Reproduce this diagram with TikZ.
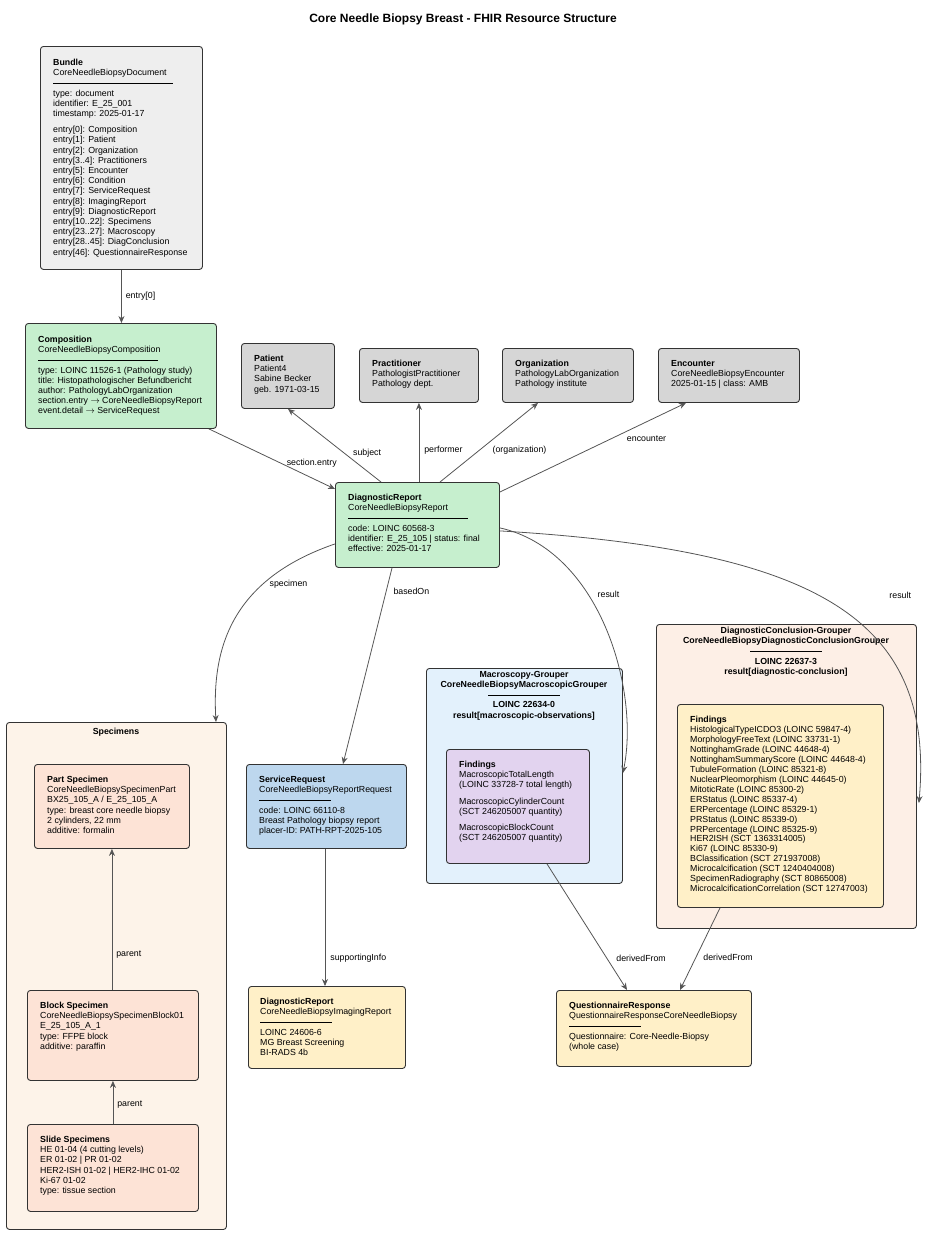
\documentclass[tikz,border=0pt]{standalone}
\usepackage{fontspec}
\setmainfont{Liberation Sans}
\usetikzlibrary{arrows.meta}
\definecolor{edge}{HTML}{555555}
\definecolor{cgray}{HTML}{EEEEEE}
\definecolor{cgray2}{HTML}{D6D6D6}
\definecolor{cgreen}{HTML}{C6EFCE}
\definecolor{cpeach}{HTML}{FDF3E9}
\definecolor{cpart}{HTML}{FDE3D6}
\definecolor{cblue}{HTML}{BDD7EE}
\definecolor{cyellow}{HTML}{FFF0C8}
\definecolor{clblue}{HTML}{E3F1FC}
\definecolor{cviolet}{HTML}{E2D3EF}
\definecolor{cdc}{HTML}{FDEFE6}
\tikzset{
  box/.style={draw=black!80, line width=0.9pt, rounded corners=3pt, anchor=north west, inner sep=0pt},
  txt/.style={anchor=north west, inner sep=0pt, align=left, font=\fontsize{8.8}{10.2}\selectfont},
  ctxt/.style={anchor=north, inner sep=0pt, align=center, font=\fontsize{8.8}{10.2}\selectfont\bfseries},
  arr/.style={draw=edge, line width=0.8pt, -{Stealth[length=7pt,width=6pt]}},
  lab/.style={font=\fontsize{8.8}{10}\selectfont, inner sep=1pt},
}
\newcommand{\sepline}[1]{\rule[2pt]{#1}{0.6pt}}
\begin{document}
\begin{tikzpicture}[x=1pt,y=-1pt]
\useasboundingbox (0,0) rectangle (937,1235);
\node[font=\fontsize{12}{14}\selectfont\bfseries] (title) at (463,19) {Core Needle Biopsy Breast - FHIR Resource Structure};

% boxes
\node[box, fill=cgray, minimum width=162pt, minimum height=223pt] (bundle) at (40,46) {};
\node[box, fill=cgreen, minimum width=191pt, minimum height=105pt] (comp) at (25,323) {};
\node[box, fill=cgray2, minimum width=93pt, minimum height=65pt] (pat) at (241,343) {};
\node[box, fill=cgray2, minimum width=119pt, minimum height=54pt] (prac) at (359,348) {};
\node[box, fill=cgray2, minimum width=131pt, minimum height=54pt] (org) at (502,348) {};
\node[box, fill=cgray2, minimum width=141pt, minimum height=54pt] (enc) at (658,348) {};
\node[box, fill=cgreen, minimum width=164pt, minimum height=85pt] (dr) at (335,482) {};
\node[box, fill=cpeach, minimum width=220pt, minimum height=507pt] (spec) at (6,722) {};
\node[box, fill=cpart, minimum width=155pt, minimum height=84pt] (part) at (34,764) {};
\node[box, fill=cpart, minimum width=171pt, minimum height=90pt] (block) at (27,990) {};
\node[box, fill=cpart, minimum width=171pt, minimum height=87pt] (slide) at (27,1124) {};
\node[box, fill=cblue, minimum width=160pt, minimum height=84pt] (sr) at (246,764) {};
\node[box, fill=cyellow, minimum width=157pt, minimum height=82pt] (img) at (248,986) {};
\node[box, fill=clblue, minimum width=196pt, minimum height=215pt] (macro) at (426,668) {};
\node[box, fill=cviolet, minimum width=143pt, minimum height=114pt] (mfind) at (446,749) {};
\node[box, fill=cdc, minimum width=260pt, minimum height=304pt] (dc) at (656,624) {};
\node[box, fill=cyellow, minimum width=206pt, minimum height=203pt] (dfind) at (677,704) {};
\node[box, fill=cyellow, minimum width=195pt, minimum height=76pt] (qr) at (556,990) {};

% texts
\node[txt] (bundlet) at (53,59) {\textbf{Bundle}\\CoreNeedleBiopsyDocument\\\sepline{120pt}\\type: document\\identifier: E\_25\_001\\timestamp: 2025-01-17\\[6pt]
entry[0]: Composition\\entry[1]: Patient\\entry[2]: Organization\\entry[3..4]: Practitioners\\entry[5]: Encounter\\entry[6]: Condition\\entry[7]: ServiceRequest\\entry[8]: ImagingReport\\entry[9]: DiagnosticReport\\entry[10..22]: Specimens\\entry[23..27]: Macroscopy\\entry[28..45]: DiagConclusion\\entry[46]: QuestionnaireResponse};
\node[txt] (compt) at (38,336) {\textbf{Composition}\\CoreNeedleBiopsyComposition\\\sepline{120pt}\\type: LOINC 11526-1 (Pathology study)\\title: Histopathologischer Befundbericht\\author: PathologyLabOrganization\\section.entry $\rightarrow$ CoreNeedleBiopsyReport\\event.detail $\rightarrow$ ServiceRequest};
\node[txt] (patt) at (254,355) {\textbf{Patient}\\Patient4\\Sabine Becker\\geb. 1971-03-15};
\node[txt] (pract) at (372,360) {\textbf{Practitioner}\\PathologistPractitioner\\Pathology dept.};
\node[txt] (orgt) at (515,360) {\textbf{Organization}\\PathologyLabOrganization\\Pathology institute};
\node[txt] (enct) at (671,360) {\textbf{Encounter}\\CoreNeedleBiopsyEncounter\\2025-01-15 | class: AMB};
\node[txt] (drt) at (348,494) {\textbf{DiagnosticReport}\\CoreNeedleBiopsyReport\\\sepline{120pt}\\code: LOINC 60568-3\\identifier: E\_25\_105 | status: final\\effective: 2025-01-17};
\node[ctxt] (spect) at (116,728) {Specimens};
\node[txt] (partt) at (47,776) {\textbf{Part Specimen}\\CoreNeedleBiopsySpecimenPart\\BX25\_105\_A / E\_25\_105\_A\\type: breast core needle biopsy\\2 cylinders, 22 mm\\additive: formalin};
\node[txt] (blockt) at (40,1002) {\textbf{Block Specimen}\\CoreNeedleBiopsySpecimenBlock01\\E\_25\_105\_A\_1\\type: FFPE block\\additive: paraffin};
\node[txt] (slidet) at (40,1136) {\textbf{Slide Specimens}\\HE 01-04 (4 cutting levels)\\ER 01-02 | PR 01-02\\HER2-ISH 01-02 | HER2-IHC 01-02\\Ki-67 01-02\\type: tissue section};
\node[txt] (srt) at (259,776) {\textbf{ServiceRequest}\\CoreNeedleBiopsyReportRequest\\\sepline{72pt}\\code: LOINC 66110-8\\Breast Pathology biopsy report\\placer-ID: PATH-RPT-2025-105};
\node[txt] (imgt) at (260,998) {\textbf{DiagnosticReport}\\CoreNeedleBiopsyImagingReport\\\sepline{72pt}\\LOINC 24606-6\\MG Breast Screening\\BI-RADS 4b};
\node[ctxt] (macrot) at (524,671) {Macroscopy-Grouper\\CoreNeedleBiopsyMacroscopicGrouper\\\rule[2pt]{72pt}{0.6pt}\\LOINC 22634-0\\result[macroscopic-observations]};
\node[txt] (mfindt) at (459,761) {\textbf{Findings}\\MacroscopicTotalLength\\(LOINC 33728-7 total length)\\[6pt]MacroscopicCylinderCount\\(SCT 246205007 quantity)\\[6pt]MacroscopicBlockCount\\(SCT 246205007 quantity)};
\node[ctxt] (dct) at (786,627) {DiagnosticConclusion-Grouper\\CoreNeedleBiopsyDiagnosticConclusionGrouper\\\rule[2pt]{72pt}{0.6pt}\\LOINC 22637-3\\result[diagnostic-conclusion]};
\node[txt, font=\fontsize{8.8}{9.95}\selectfont] (dfindt) at (690,716) {\textbf{Findings}\\HistologicalTypeICDO3 (LOINC 59847-4)\\MorphologyFreeText (LOINC 33731-1)\\NottinghamGrade (LOINC 44648-4)\\NottinghamSummaryScore (LOINC 44648-4)\\TubuleFormation (LOINC 85321-8)\\NuclearPleomorphism (LOINC 44645-0)\\MitoticRate (LOINC 85300-2)\\ERStatus (LOINC 85337-4)\\ERPercentage (LOINC 85329-1)\\PRStatus (LOINC 85339-0)\\PRPercentage (LOINC 85325-9)\\HER2ISH (SCT 1363314005)\\Ki67 (LOINC 85330-9)\\BClassification (SCT 271937008)\\Microcalcification (SCT 1240404008)\\SpecimenRadiography (SCT 80865008)\\MicrocalcificationCorrelation (SCT 12747003)};
\node[txt] (qrt) at (569,1002) {\textbf{QuestionnaireResponse}\\QuestionnaireResponseCoreNeedleBiopsy\\\sepline{72pt}\\Questionnaire: Core-Needle-Biopsy\\(whole case)};

% connectors
\draw[arr] (bundle.south) -- node[lab, right=3pt] {entry[0]} (comp.north -| bundle.south);
\draw[arr] ([xshift=-8pt]comp.south east) -- node[lab, pos=0.8, xshift=2pt, yshift=14pt] {section.entry} ([yshift=-7pt]dr.north west);
\draw[arr] ([xshift=46pt]dr.north west) -- node[lab, pos=0.4, right=8pt] {subject} ([xshift=47pt]pat.south west);
\draw[arr] (dr.north -| prac.south) -- node[lab, pos=0.4, right=4pt] {performer} (prac.south);
\draw[arr] ([xshift=105pt]dr.north west) -- node[lab, pos=0.4, right=12pt] {(organization)} ([xshift=36pt]org.south west);
\draw[arr] ([yshift=-10pt]dr.north east) -- node[lab, pos=0.6, right=14pt] {encounter} ([xshift=28pt]enc.south west);
\draw[arr] ([yshift=24pt]dr.south west) .. controls (230,580) and (212,650) .. node[lab, pos=0.3, right=6pt] {specimen} ([xshift=210pt]spec.north west);
\draw[arr] ([xshift=57pt]dr.south west) -- node[lab, pos=0.12, right=6pt] {basedOn} ([xshift=97pt]sr.north west);
\draw[arr] ([yshift=40pt]dr.south east) .. controls (600,550) and (640,690) .. node[lab, pos=0.42, xshift=14pt, yshift=11pt] {result} ([yshift=-105pt]macro.north east);
\draw[arr] ([yshift=37pt]dr.south east) .. controls (820,550) and (935,620) .. node[lab, pos=0.55, xshift=46pt, yshift=24pt] {result} ([xshift=2pt,yshift=-179pt]dc.north east);
\draw[arr] ([xshift=79pt]sr.south west) -- node[lab, pos=0.8, right=4pt] {supportingInfo} ([xshift=77pt]img.north west);
\draw[arr] (block.north -| part.south) -- node[lab, pos=0.25, right=3pt] {parent} (part.south);
\draw[arr] (slide.north) -- node[lab, pos=0.45, right=3pt] {parent} (block.south);
\draw[arr] ([xshift=101pt]mfind.south west) -- node[lab, pos=0.75, right=8pt] {derivedFrom} ([xshift=71pt]qr.north west);
\draw[arr] ([xshift=43pt]dfind.south west) -- node[lab, pos=0.6, right=6pt] {derivedFrom} ([xshift=124pt]qr.north west);
\end{tikzpicture}
\end{document}
